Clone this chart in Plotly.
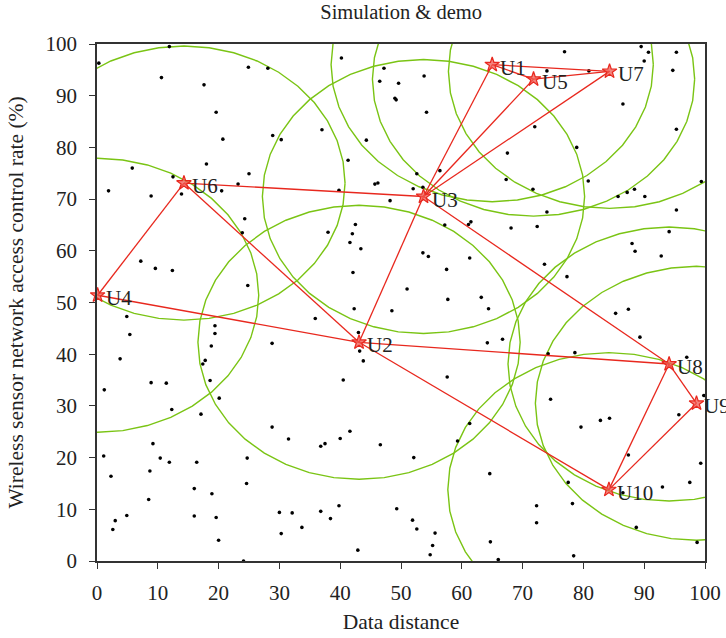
import numpy as np
import plotly.graph_objects as go

# Cluster-head nodes
node_names = ["U1", "U2", "U3", "U4", "U5", "U6", "U7", "U8", "U9", "U10"]
node_x = [65.0, 43.1, 53.7, 0.1, 71.8, 14.3, 84.3, 94.1, 98.6, 84.2]
node_y = [96.0, 42.3, 70.5, 51.4, 93.2, 73.1, 94.7, 38.1, 30.5, 13.8]

# Communication radius of every node
comm_radius = 26.5

# Links between nodes
links = [
    ("U4", "U6"), ("U4", "U2"), ("U6", "U3"), ("U6", "U2"),
    ("U3", "U1"), ("U3", "U5"), ("U3", "U7"), ("U1", "U5"),
    ("U1", "U7"), ("U5", "U7"), ("U2", "U3"), ("U3", "U8"),
    ("U2", "U8"), ("U2", "U10"), ("U8", "U10"), ("U8", "U9"),
    ("U9", "U10"),
]

# Ordinary sensor nodes
sensor_x = [
    11.9, 0.3, 10.6, 17.6, 24.9, 28.1, 19.6, 20.7, 28.9, 30.3, 37.0, 40.2, 41.3, 18.0, 5.8,
    12.5, 25.0, 23.2, 20.5, 13.9, 1.9, 39.8, 8.9,
    76.9, 89.5, 90.7, 95.3, 90.0, 94.7, 80.9, 74.0, 47.2, 46.5, 49.6, 53.8, 49.0, 49.2,
    54.2, 86.5, 95.3, 72.0, 78.9, 67.5, 44.3, 56.4, 52.6, 45.7, 46.2, 52.0, 53.6, 67.3,
    71.7, 80.8, 99.4, 85.7, 87.2, 88.4, 90.1, 48.2,
    24.3, 23.9, 7.2, 9.6, 12.4, 24.8, 4.9, 5.4, 19.4, 19.4, 18.8, 17.8, 17.4, 3.8, 8.9,
    11.4, 18.6, 1.2, 20.1, 28.8, 35.9, 38.0, 42.5, 42.0, 41.6, 43.4, 42.1, 42.3, 43.0,
    43.2, 40.5, 43.8,
    74.0, 95.3, 57.2, 61.1, 61.5, 68.1, 72.4, 94.1, 88.0, 88.5, 92.8, 53.6, 54.5, 61.3,
    57.5, 73.6, 77.3, 51.0, 57.7, 63.2, 64.4, 48.5, 85.3, 87.4, 89.3, 64.2, 66.7, 74.2,
    78.6, 97.0, 57.6, 74.6, 99.8,
    12.3, 17.1, 28.8, 31.5, 36.8, 37.5, 40.0, 41.6, 1.1, 9.2, 10.4, 11.9, 16.4, 24.7, 2.3,
    8.7, 16.0, 24.6, 18.9, 8.5, 3.0, 2.6, 4.9, 16.0, 19.6, 20.0, 24.1, 30.0, 30.3, 32.1,
    33.7, 36.8, 38.4, 39.8, 42.9,
    46.6, 52.1, 59.3, 61.3, 64.6, 49.3, 51.9, 52.6, 55.6, 55.2, 54.8, 64.7, 66.0, 72.3,
    72.3, 78.2, 78.4, 77.5, 79.6, 82.8, 84.3, 87.4, 86.5, 88.7, 93.0, 97.5, 95.7, 99.3,
    98.7,
]
sensor_y = [
    99.5, 96.3, 93.5, 92.1, 95.5, 95.3, 86.8, 81.6, 82.3, 81.5, 83.4, 97.3, 77.5, 76.8, 76.0,
    74.3, 74.9, 72.9, 71.6, 71.0, 71.6, 71.7, 70.6,
    98.5, 99.5, 98.4, 98.4, 96.7, 94.9, 94.8, 94.8, 95.3, 92.8, 92.4, 93.8, 89.5, 89.2,
    86.8, 88.4, 83.5, 84.0, 80.0, 78.9, 81.4, 75.5, 74.9, 72.9, 73.1, 72.0, 72.3, 73.8,
    71.9, 73.5, 73.4, 70.5, 71.3, 71.9, 70.5, 69.7,
    66.2, 63.5, 58.0, 56.6, 56.2, 53.3, 47.3, 43.8, 45.5, 44.0, 41.6, 38.8, 38.1, 39.1, 34.5,
    34.4, 34.9, 33.1, 31.5, 42.1, 46.9, 63.6, 65.1, 63.3, 61.6, 60.4, 55.8, 48.8, 44.2,
    40.6, 35.0, 38.7,
    67.5, 67.9, 65.0, 65.1, 65.6, 64.4, 64.7, 63.7, 61.4, 59.9, 59.0, 59.6, 58.9, 58.6,
    56.4, 57.4, 55.0, 52.6, 50.6, 51.0, 48.8, 48.4, 47.9, 48.7, 43.3, 42.2, 42.9, 40.1,
    40.3, 39.4, 35.6, 31.3, 32.0,
    29.3, 28.4, 25.9, 23.6, 22.2, 22.7, 23.7, 25.1, 20.3, 22.7, 19.9, 19.1, 19.1, 19.9, 16.4,
    17.4, 14.0, 15.0, 13.0, 11.9, 7.8, 6.1, 8.8, 8.7, 8.4, 4.0, 0.0, 9.4, 5.3, 9.3,
    6.5, 9.6, 8.2, 10.7, 2.1,
    22.5, 20.0, 23.2, 26.6, 16.9, 10.1, 7.9, 6.2, 5.4, 3.0, 1.2, 3.7, 0.3, 10.7,
    7.4, 11.1, 1.0, 15.2, 25.9, 27.2, 27.6, 20.5, 13.2, 6.5, 14.3, 15.2, 28.3, 18.9,
    3.6,
]

x_ticks = [0, 10, 20, 30, 40, 50, 60, 70, 80, 90, 100]
y_ticks = [0, 10, 20, 30, 40, 50, 60, 70, 80, 90, 100]

FONT = "Liberation Serif"
GREEN = "rgb(122,196,20)"
RED = "rgb(232,40,30)"
TEXT = "#222"

fig = go.Figure()

# Coverage circles around each cluster head
theta = np.linspace(0, 2 * np.pi, 41)
for cx, cy in zip(node_x, node_y):
    fig.add_trace(go.Scatter(
        x=cx + comm_radius * np.cos(theta),
        y=cy + comm_radius * np.sin(theta),
        mode="lines",
        line=dict(color=GREEN, width=1.4),
        hoverinfo="skip",
        showlegend=False,
    ))

# Sensor nodes
fig.add_trace(go.Scatter(
    x=sensor_x, y=sensor_y, mode="markers",
    marker=dict(color="black", size=3.6),
    showlegend=False,
))

# Links
pos = {n: (x, y) for n, x, y in zip(node_names, node_x, node_y)}
lx, ly = [], []
for a, b in links:
    lx += [pos[a][0], pos[b][0], None]
    ly += [pos[a][1], pos[b][1], None]
fig.add_trace(go.Scatter(
    x=lx, y=ly, mode="lines",
    line=dict(color=RED, width=1.3),
    hoverinfo="skip", showlegend=False,
))

# Cluster heads
fig.add_trace(go.Scatter(
    x=node_x, y=node_y, mode="markers",
    marker=dict(symbol="star", size=11, color="rgba(240,90,80,0.75)",
                line=dict(color=RED, width=1.2)),
    cliponaxis=False, showlegend=False,
))

for name, x, y in zip(node_names, node_x, node_y):
    fig.add_annotation(
        x=x, y=y, text=name, showarrow=False,
        xanchor="left", yanchor="middle", xshift=6, yshift=-3,
        font=dict(family=FONT, size=21, color=TEXT),
    )

axis_common = dict(
    range=[0, 100], automargin=False,
    showgrid=False, zeroline=False,
    showline=True, linecolor="#333", linewidth=1.6, mirror=True,
    ticks="outside", ticklen=6, tickwidth=1.4, tickcolor="#333",
    tickfont=dict(family=FONT, size=21, color=TEXT),
)

fig.update_layout(
    width=726, height=638,
    margin=dict(l=97, r=21, t=44, b=77),
    plot_bgcolor="white", paper_bgcolor="white",
    title=dict(text="Simulation & demo", x=0.5525, xanchor="center",
               y=0.981, yanchor="middle",
               font=dict(family=FONT, size=20.5, color=TEXT)),
    xaxis=dict(axis_common, tickvals=x_ticks, ticklabelstandoff=6,
               title=dict(text="Data distance", standoff=10,
                          font=dict(family=FONT, size=21.5, color=TEXT))),
    yaxis=dict(axis_common, tickvals=y_ticks, ticklabelstandoff=8,
               title=dict(text="Wireless sensor network access control rate (%)", standoff=16,
                          font=dict(family=FONT, size=21.5, color=TEXT))),
)

fig.write_html("out.html")
